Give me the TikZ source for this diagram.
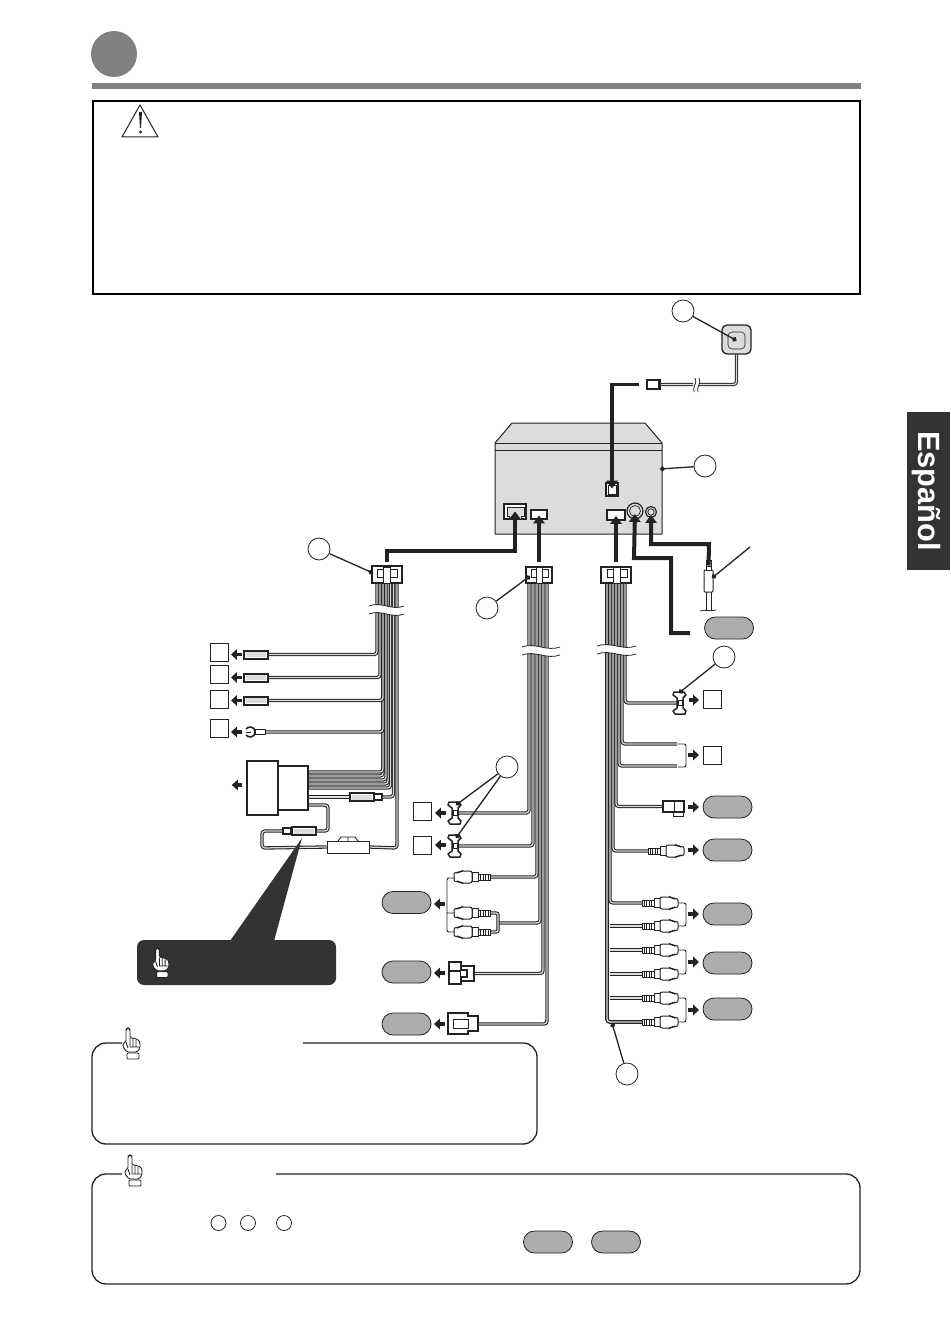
\documentclass[tikz,border=0pt]{standalone}
\usepackage{fontspec}
\setmainfont{Liberation Sans}
\usetikzlibrary{arrows.meta,shapes.misc,calc}
\pgfdeclarelayer{wires}
\pgfsetlayers{wires,main}
\newdimen\px \px=0.569pt
\definecolor{ink}{HTML}{222222}
\definecolor{pillgray}{HTML}{ADADAD}
\definecolor{unitgray}{HTML}{DCDCDC}
\definecolor{darkbox}{HTML}{333333}
\tikzset{
  x=0.02cm,y=-0.02cm,
  wire/.style={draw=ink,line width=1.05\px,double=unitgray,double distance=1.25\px,rounded corners=3\px},
  feed/.style={draw=ink,line width=4\px,-{Triangle[length=4.5pt,width=6.5pt]}},
  arr/.style={draw=ink,line width=3.2\px,-{Triangle[length=3.4pt,width=6pt]}},
  leader/.style={draw=ink,line width=1.3\px,-{Circle[length=2.8pt,width=2.8pt]}},
  num/.style={circle,draw=ink,line width=0.8\px,fill=white,minimum size=22\px,inner sep=0pt},
  sqr/.style={rectangle,draw=ink,line width=0.8\px,fill=white,minimum size=18\px,inner sep=0pt},
  pill/.style={rounded rectangle,draw=ink,line width=0.8\px,fill=pillgray,minimum width=49\px,minimum height=22\px,inner sep=0pt},
  body/.style={rectangle,draw=ink,line width=1.6\px,fill=white,inner sep=0pt},
  fuse/.style={body,line width=2\px,minimum width=24\px,minimum height=8\px,path picture={\fill[unitgray] ([xshift=2\px,yshift=-1.5\px]path picture bounding box.north west) rectangle ([xshift=-2\px,yshift=1.5\px]path picture bounding box.south east);}},
  port/.style={rectangle,draw=ink,line width=1.4\px,fill=white,inner sep=0pt},
  boxline/.style={draw=ink,line width=1.3\px,rounded corners=14\px},
  pics/rca/.style={code={
    \draw[draw=ink,line width=0.9\px,fill=white] (0,-3) rectangle (12,3);
    \foreach \xx in {2,4.5,7,9.5} \draw[draw=ink,line width=1\px] (\xx,-3) -- (\xx,3);
    \draw[draw=ink,line width=1\px,fill=white] (12,-4.5) rectangle (18,4.5);
    \draw[draw=ink,line width=1\px,fill=white,rounded corners=2\px] (18,-6) -- (29,-6) -- (31,-4.5) -- (36,-4.5) -- (36,4.5) -- (31,4.5) -- (29,6) -- (18,6) -- cycle;
  }},
  pics/tcon/.style={code={
    \draw[draw=ink,line width=1.5\px,fill=white,line join=round] (-6,-11) -- (4,-11) -- (6,-8) -- (3,-5) -- (3,5) -- (6,8) -- (5,11) -- (-5,11) -- (-7,8) -- (-3,5) -- (-3,-5) -- (-7,-8) -- cycle;
    \draw[draw=ink,line width=1\px,fill=white] (-2,-2.5) rectangle (2,2.5);
  }},
  pics/mconn/.style={code={
    \draw[draw=ink,line width=1\px,fill=white] (-9,-6) rectangle (-3,2);
    \draw[draw=ink,line width=1\px,fill=white] (-3,-8) rectangle (4,8);
    \draw[draw=ink,line width=1\px,fill=white] (4,-6) rectangle (11,2);
  }},
  pics/hand/.style={code={
    \draw[draw=ink,line width=0.9\px,fill=white,rounded corners=1.5\px] (-2,14) -- (-2,1) -- (0,0) -- (2,1) -- (2,10) -- (5,10) -- (8,11) -- (11,12) -- (12,15) -- (12,20) -- (9,24) -- (-1,24) -- (-5,19) -- (-5,15) -- cycle;
    \draw[draw=ink,line width=0.8\px] (2,10) -- (2,19) (5,11) -- (5,19) (8,12) -- (8,19) (2,19) -- (11,19) (-2,14) -- (0,20);
    \draw[draw=ink,line width=0.9\px,fill=white,rounded corners=1\px] (-1,25) rectangle (11,31);
  }}
}
\newcommand{\brk}[3]{%
  \fill[white] (#1,#3-4) .. controls (#1+#2*0.35-#1*0.35,#3-9) and (#1+#2*0.65-#1*0.65,#3+1) .. (#2,#3-4) -- (#2,#3+4) .. controls (#1+#2*0.65-#1*0.65,#3+9) and (#1+#2*0.35-#1*0.35,#3-1) .. (#1,#3+4) -- cycle;
  \draw[draw=ink,line width=0.8\px] (#1,#3-4) .. controls (#1+#2*0.35-#1*0.35,#3-9) and (#1+#2*0.65-#1*0.65,#3+1) .. (#2,#3-4);
  \draw[draw=ink,line width=0.8\px] (#1,#3+4) .. controls (#1+#2*0.35-#1*0.35,#3-1) and (#1+#2*0.65-#1*0.65,#3+9) .. (#2,#3+4);
}
\begin{document}
\begin{tikzpicture}
\useasboundingbox (0,0) rectangle (950,1344);
\begin{pgfonlayer}{wires}
\fill[white] (0,0) rectangle (950,1344);
\end{pgfonlayer}

% header
\node[circle,fill=black!50,minimum size=46\px,inner sep=0pt] (hdr) at (114,54) {};
\fill[black!50] (92,83) rectangle (861,89);
\draw[draw=black,line width=2\px] (93,101) rectangle (860,294);
\draw[draw=ink,line width=1\px,line join=round] (140,105) -- (158,137) -- (122,137) -- cycle;
\fill[ink] (139,112) -- (142,112) -- (141,128) -- (140,128) -- cycle;
\fill[ink] (140.5,132) circle (1.7);

% language tab
\fill[darkbox] (907,412) rectangle (950,570);
\node[rotate=-90,text=white,font=\bfseries\fontsize{17.5pt}{18pt}\selectfont,inner sep=0pt] (lang) at (926.5,491) {Español};

% head unit
\draw[draw=ink,line width=1\px,fill=unitgray,line join=round] (495,443) -- (512,423) -- (645,423) -- (662,443) -- (662,534) -- (495,534) -- cycle;
\draw[draw=ink,line width=0.9\px] (495,443) -- (662,443) (495,450) -- (662,450);
\coordinate (unitdot) at (660,469);
\node[port,minimum width=22\px,minimum height=15\px] (pA) at (515,511.5) {};
\draw[draw=ink,line width=0.8\px,fill=unitgray] (507,507) -- (524,507) -- (524,516) -- (521,516) -- (521,519) -- (509,519) -- (509,516) -- (507,516) -- cycle;
\node[port,minimum width=16\px,minimum height=9\px] (pB) at (539,514.5) {};
\node[port,minimum width=18\px,minimum height=10\px] (pC) at (616,515) {};
\node[port,minimum width=12\px,minimum height=13\px] (pG) at (612,489.5) {};
\draw[draw=ink,line width=0.8\px] (608,485) rectangle (616,494);
\node[circle,draw=ink,line width=1.2\px,fill=unitgray,minimum size=16\px,inner sep=0pt] (R1) at (635,511) {};
\draw[draw=ink,line width=0.7\px] (635,511) circle (5.5);
\node[circle,draw=ink,line width=1.2\px,fill=unitgray,minimum size=11\px,inner sep=0pt] (R2) at (651,512) {};
\draw[draw=ink,line width=0.7\px] (651,512) circle (3.2);

% GPS antenna
\node[draw=ink,line width=1.3\px,fill=unitgray,rounded corners=5\px,minimum size=29\px,inner sep=0pt] (gps) at (736.5,339.5) {};
\node[draw=ink,line width=0.6\px,fill=unitgray,rounded corners=4\px,minimum size=17\px,inner sep=0pt] (gpsin) at (736.5,340.5) {};
\node[body,minimum width=13\px,minimum height=9\px] (gpsc) at (653.5,384.5) {};
\fill[ink] (658,381) rectangle (661,388);
\begin{pgfonlayer}{wires}
\draw[wire] (gps.south) |- (gpsc.east);
\fill[white] (694,378) -- (700,378) -- (698,392) -- (692,392) -- cycle;
\draw[draw=ink,line width=0.8\px] (695,378) .. controls (698,383) and (692,387) .. (694,392);
\draw[draw=ink,line width=0.8\px] (699,378) .. controls (702,383) and (696,387) .. (698,392);
\end{pgfonlayer}
\draw[feed,shorten >=1\px] ([xshift=-7\px]gpsc.west) -| (pG.center);

% main connectors
\node[body,minimum width=30\px,minimum height=17\px] (conA) at (387,574.5) {};
\path (386,575) pic {mconn};
\node[body,minimum width=26\px,minimum height=16\px] (conB) at (539,575) {};
\path (539,575) pic[xscale=0.85] {mconn};
\node[body,minimum width=30\px,minimum height=16\px] (conC) at (616,575) {};
\path (616,575) pic {mconn};
\draw[feed,shorten <=3\px] (conA.north) -- ++(0,-14.5) -| (pA.center);
\draw[feed,shorten <=4\px,shorten >=1\px] (conB.north) -- (pB.center);
\draw[feed,shorten <=4\px,shorten >=1\px] (conC.north) -- (pC.center);

% video jack feed
\node[draw=none,inner sep=0pt,minimum size=1\px] (endV) at (691,633) {};
\draw[feed,shorten >=3\px] (endV) -- (671,633) -- (671,558) -- (634,558) -- (R1.center);
% aux jack
\node[body,line width=1\px,minimum width=9\px,minimum height=22\px,rounded corners=1\px] (jack) at (708.5,581) {};
\draw[draw=ink,line width=1\px,fill=white] (706,560) rectangle (711,570);
\draw[draw=ink,line width=0.8\px] (705.5,566) -- (711.5,566);
\coordinate (jackdot) at (712,578);
\coordinate (jackfree) at (750,547);
\draw[feed,shorten >=3\px] ([yshift=-5\px]jack.north) ++(0,-9) -- (709,544) -- (651,544) -- (R2.center);
\begin{pgfonlayer}{wires}
\draw[draw=ink,line width=1\px] (706,592) -- (706,611) (711,592) -- (711,611);
\draw[draw=ink,line width=0.8\px] (700,611) .. controls (705,609) and (710,612) .. (716,610);
\end{pgfonlayer}

% harness A elements
\foreach \n/\y in {f1/654.5,f2/677.5,f3/700.5}{\node[fuse] (\n) at (256,\y) {};}
\node[sqr] (s1) at (219,652) {};
\node[sqr] (s2) at (219,674) {};
\node[sqr] (s3) at (219,699) {};
\node[sqr] (s4) at (219,728) {};
\node[rectangle,draw=ink,line width=0.9\px,fill=white,minimum width=10\px,minimum height=5\px,inner sep=0pt] (ring) at (260,732) {};
\draw[draw=ink,line width=1.6\px,fill=white] (246,729) .. controls (248,726) and (255,726) .. (255,732) .. controls (255,738) and (248,738) .. (246,735);
\draw[draw=ink,line width=1\px] (246,732) -- (251,732);
\draw[arr] (242,654.5) -- (231,654.5);
\draw[arr] (242,677.5) -- (231,677.5);
\draw[arr] (242,700.5) -- (231,700.5);
\draw[arr] (242,732) -- (231,732);
\node[body,minimum width=31\px,minimum height=54\px] (blkL) at (262.5,788) {};
\node[body,minimum width=30\px,minimum height=44\px] (blkR) at (293,788) {};
\node[inner sep=0pt,minimum size=1\px] (blkA) at (231,785) {};
\draw[arr] ([xshift=11\px]blkA.center) -- (blkA);
\node[fuse] (f4) at (362,797) {};
\node[body,line width=1.2\px,minimum width=8\px,minimum height=6\px] (f4b) at (378,797) {};
\node[fuse] (f5) at (304,831) {};
\node[body,line width=1.2\px,minimum width=8\px,minimum height=6\px] (f5b) at (287,831) {};
\node[rectangle,draw=ink,line width=1\px,fill=white,minimum width=42\px,minimum height=12\px,inner sep=0pt] (hold) at (348,847) {};
\draw[draw=ink,line width=0.9\px,fill=white] (338,841) -- (341,837) -- (355,837) -- (358,841) (348,837) -- (348,841);

\foreach \n/\xx in {a1/377,a2/380,a3/383,a4/386,a5/388,a6/390.5,a7/393.5,a8/397}{\coordinate (\n) at (\xx,583);}
\begin{pgfonlayer}{wires}
\draw[wire] (a8) -- (397,848) -- (hold.east);
\draw[wire] (hold.west) -- (262,848) -- (262,831) -- (f5b.west);
\draw[wire] (f5.east) -- (328,831) -- (328,805) -- (308,805);
\draw[wire] (a7) |- (f4b.east);
\draw[wire] (f4.west) -- (308,797);
\draw[wire] (a6) |- (308,788);
\draw[wire] (a5) |- (308,784);
\draw[wire] (a4) |- (308,780);
\draw[wire] (a3) |- (308,776);
\draw[wire] (a3) |- (308,772);
\draw[wire] (a3) |- (ring.east);
\draw[wire] (a3) |- (f3.east);
\draw[wire] (a2) |- (f2.east);
\draw[wire] (a1) |- (f1.east);
\brk{369}{404}{610}
\end{pgfonlayer}

% harness B elements
\path (455,813) coordinate (t1) pic {tcon};
\path (455,846) coordinate (t2) pic {tcon};
\node[sqr] (s5) at (422,811) {};
\node[sqr] (s6) at (422,845) {};
\draw[arr] (446,813) -- (435,813);
\draw[arr] (446,845) -- (435,845);
\path (490,877) coordinate (r1) pic[xscale=-1] {rca};
\path (490,913) coordinate (r2) pic[xscale=-1] {rca};
\path (490,932) coordinate (r3) pic[xscale=-1] {rca};
\node[pill] (p1) at (406.5,902.5) {};
\node[pill] (p2) at (406.5,972) {};
\node[pill] (p3) at (406.5,1024) {};
\draw[draw=ink,line width=0.9\px,rounded corners=2\px] (455,878) -- (447,878) -- (447,932) -- (455,932) (447,913) -- (455,913);
\draw[arr] (445,904) -- (434,904);
\node[body,minimum width=12\px,minimum height=22\px] (c2a) at (455,973) {};
\node[body,minimum width=13\px,minimum height=15\px] (c2b) at (467.5,973.5) {};
\draw[draw=ink,line width=1.2\px,fill=white] (461,970) -- (467,970) -- (467,977) -- (461,977);
\draw[draw=ink,line width=1.2\px] (449,971) -- (461,971);
\draw[arr] (445,973) -- (434,973);
\draw[draw=ink,line width=1.3\px,fill=white] (448,1013) -- (468,1013) -- (468,1016) -- (478,1016) -- (478,1031) -- (468,1031) -- (468,1034) -- (448,1034) -- cycle;
\node[rectangle,draw=ink,line width=1\px,fill=white,minimum width=15\px,minimum height=9\px,inner sep=0pt] (c3) at (460.5,1023.5) {};
\coordinate (c3e) at (478,1024);
\draw[arr] (445,1024) -- (434,1024);
\foreach \n/\xx in {b1/529,b2/533,b3/537,b4/540,b5/543,b6/547}{\coordinate (\n) at (\xx,583);}
\begin{pgfonlayer}{wires}
\draw[wire] (b6) |- (c3e);
\draw[wire] (b5) |- (c2b.east);
\draw[wire] (b4) |- (498,923);
\draw[wire,rounded corners=2\px] (r2) -- (498,913) -- (498,932) -- (r3);
\draw[wire] (b3) |- (r1);
\draw[wire] (b2) |- (t2);
\draw[wire] (b1) |- (t1);
\brk{522}{560}{651}
\end{pgfonlayer}

% harness C elements
\path (680,703) coordinate (t3) pic {tcon};
\node[sqr] (s7) at (712,699) {};
\node[sqr] (s8) at (712,755) {};
\draw[arr] (689,700) -- (699,700);
\coordinate (g1) at (677,744);
\coordinate (g2) at (677,766);
\draw[draw=ink,line width=0.9\px,rounded corners=2\px] (678,744) -- (686,744) -- (686,767) -- (678,767);
\draw[arr] (688,755) -- (699,755);
\draw[draw=ink,line width=1\px,fill=white] (673,812) rectangle (683,816);
\node[rectangle,draw=ink,line width=1.1\px,fill=white,minimum width=21\px,minimum height=11\px,inner sep=0pt] (elb) at (673.5,806.5) {};
\draw[draw=ink,line width=0.9\px] (674,801) -- (674,812);
\node[pill] (p4) at (727.5,807) {};
\node[pill] (p5) at (727.5,850) {};
\node[pill] (p6) at (727.5,914) {};
\node[pill] (p7) at (727.5,963) {};
\node[pill] (p8) at (727.5,1009) {};
\node[pill] (p9) at (729,628) {};
\draw[arr] (688,807) -- (699,807);
\draw[arr] (688,850) -- (699,850);
\path (648,851) coordinate (r4) pic {rca};
\foreach \n/\yy in {r5/903,r6/926,r7/950,r8/974,r9/998,r10/1022}{\path (642,\yy) coordinate (\n) pic {rca};}
\foreach \ya/\yb/\yc in {903/926/914,950/974/962,998/1022/1010}{
  \draw[draw=ink,line width=0.9\px,rounded corners=2\px] (679,\ya) -- (686,\ya) -- (686,\yb) -- (679,\yb);
  \draw[arr] (688,\yc) -- (699,\yc);
}
\foreach \n/\xx in {c1/607,c2/610,c3x/613,c4/616,c5/619,c6/622,c7/625}{\coordinate (\n) at (\xx,583);}
\begin{pgfonlayer}{wires}
\draw[wire] (c7) |- (t3);
\draw[wire] (c6) |- (g1);
\draw[wire] (c5) |- (g2);
\draw[wire] (c4) |- (elb.west);
\draw[wire] (c3x) |- (r4);
\foreach \n in {r6,r7,r8,r9}{\draw[wire] (c2 |- \n) -- (\n);}
\draw[wire] (c2) |- (r5);
\draw[wire,line width=1.3\px] (c1) |- (r10);
\brk{597}{636}{650}
\end{pgfonlayer}

% numbered circles and leaders
\node[num] (nGps) at (683,311) {};
\node[num] (nUnit) at (705,466) {};
\node[num] (nA) at (319,549) {};
\node[num] (nB) at (487,608) {};
\node[num] (nT) at (507,767) {};
\node[num] (nC) at (724,657) {};
\node[num] (nR) at (627,1074) {};
\draw[leader] (nGps) -- (gpsin.center);
\draw[leader] (nUnit) -- (unitdot);
\draw[leader] (nA) -- (373,573);
\draw[leader] (nB) -- (530,576);
\draw[leader] (nT) -- (456,805);
\draw[leader] (nT) -- (456,838);
\draw[leader] (nC) -- (679,693);
\draw[leader] (nR) -- (612,1023);
\draw[leader] (jackfree) -- (jackdot);

% callout
\fill[darkbox,rounded corners=7\px] (137,940) rectangle (336,985);
\fill[darkbox] (302,838) -- (230,941) -- (274,941) -- cycle;
\path (157.5,948) pic[scale=0.95] {hand};

% note boxes
\draw[boxline] (122,1043) -- (92,1043) -- (92,1144) -- (537,1144) -- (537,1043) -- (303,1043);
\path (128,1028) pic {hand};
\draw[boxline] (122,1174) -- (92,1174) -- (92,1284) -- (860,1284) -- (860,1174) -- (276,1174);
\path (130,1155) pic {hand};
\node[circle,draw=ink,line width=0.8\px,minimum size=15\px,inner sep=0pt] (m1) at (218.5,1223) {};
\node[circle,draw=ink,line width=0.8\px,minimum size=15\px,inner sep=0pt] (m2) at (248,1223) {};
\node[circle,draw=ink,line width=0.8\px,minimum size=15\px,inner sep=0pt] (m3) at (284,1223) {};
\node[pill] (m4) at (548,1242) {};
\node[pill] (m5) at (616,1242) {};
\end{tikzpicture}
\end{document}
